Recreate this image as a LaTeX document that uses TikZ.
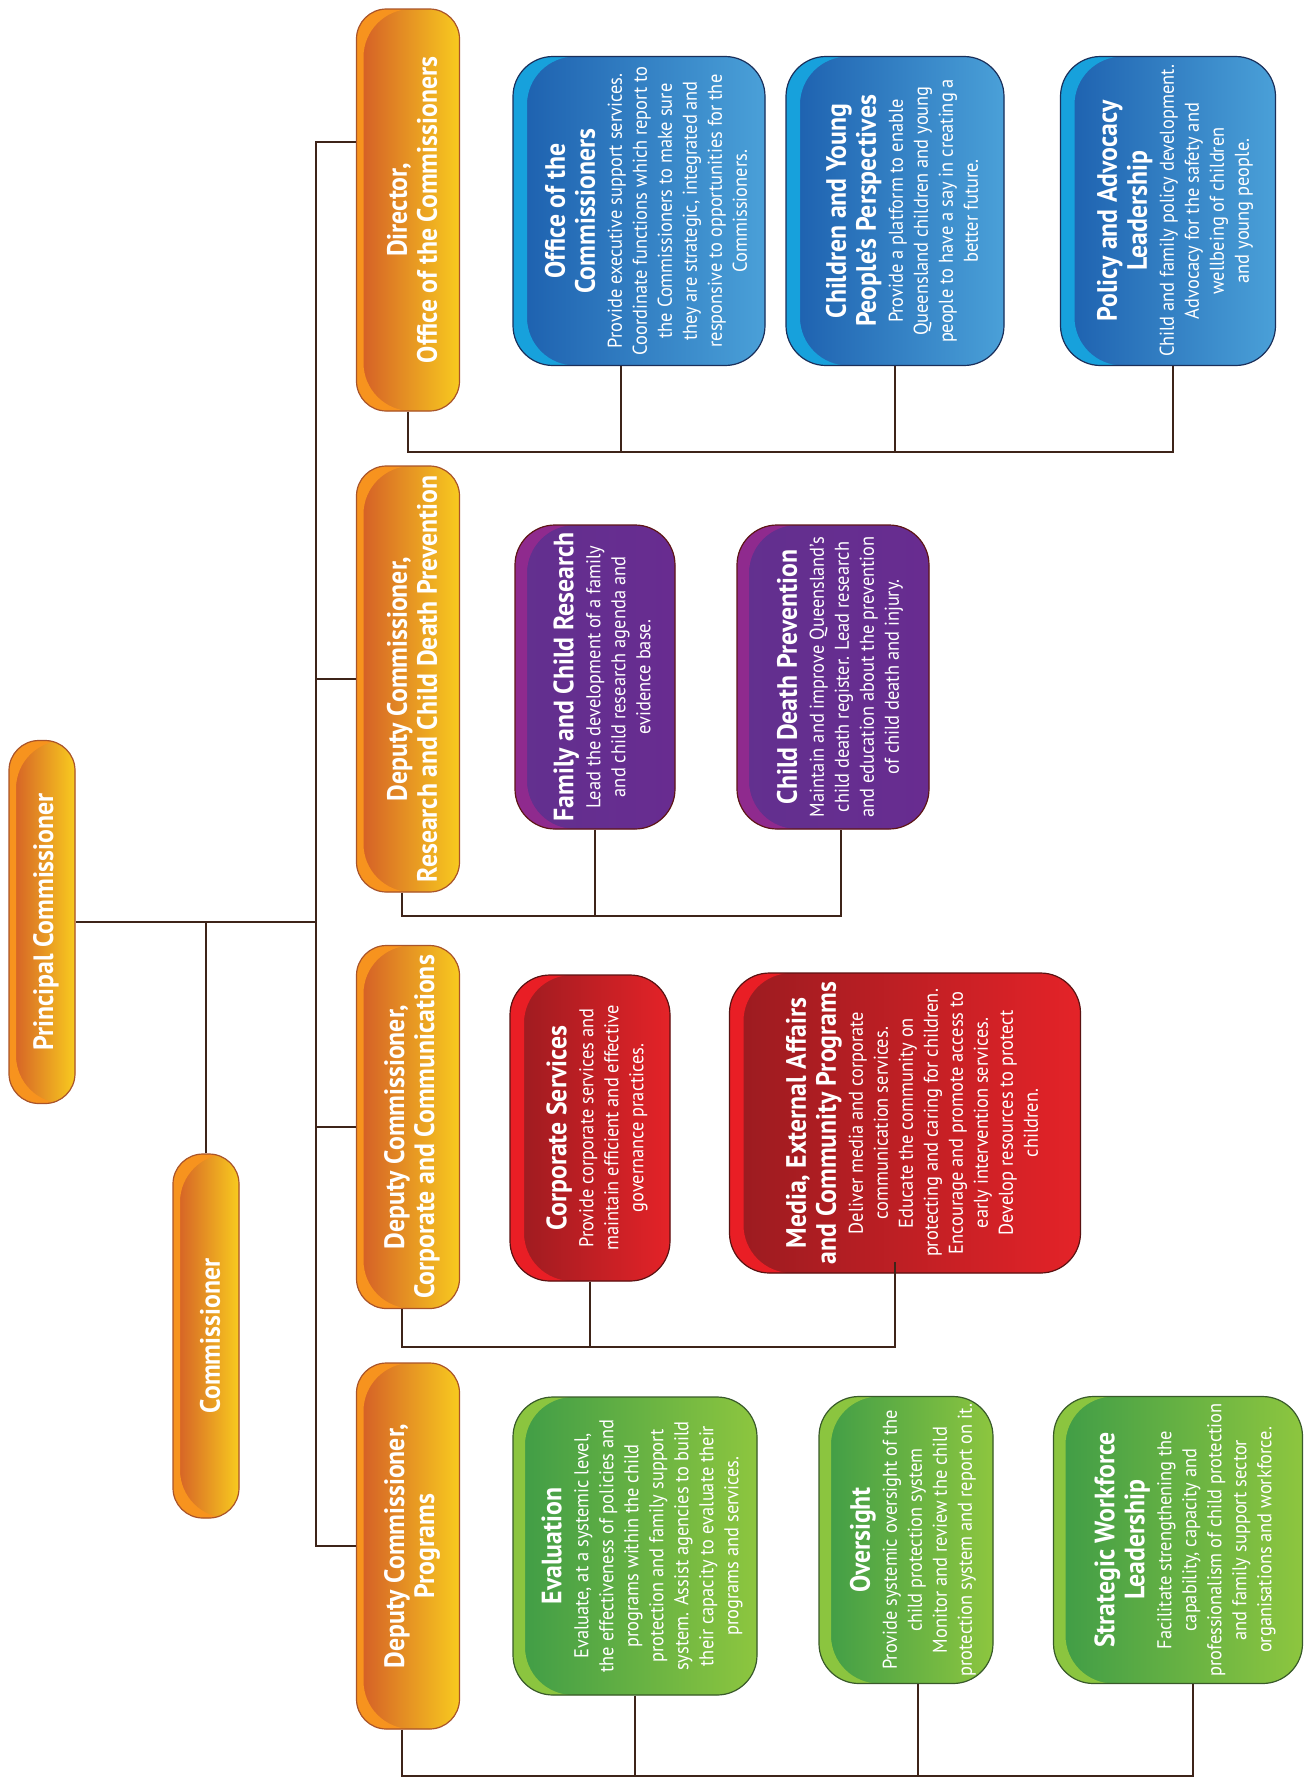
\documentclass[tikz,border=0pt]{standalone}
\usepackage{fontspec}
\setmainfont{PT Sans}[FakeStretch=0.92]
\usepackage{graphicx}

\definecolor{linebrown}{HTML}{3E2419}
\definecolor{orangeS}{HTML}{F7931E}
\definecolor{orangeL}{HTML}{D35A27}
\definecolor{orangeM}{HTML}{DC6E29}
\definecolor{orangeR}{HTML}{F8CB1F}
\definecolor{orangeD}{HTML}{A9542A}
\definecolor{blueS}{HTML}{17A1DC}
\definecolor{blueL}{HTML}{1C5FAE}
\definecolor{blueM}{HTML}{2470BA}
\definecolor{blueR}{HTML}{4AA0D8}
\definecolor{blueD}{HTML}{1B2F5A}
\definecolor{purpleS}{HTML}{8F2A8E}
\definecolor{purpleL}{HTML}{62308F}
\definecolor{purpleM}{HTML}{652E8F}
\definecolor{purpleR}{HTML}{682C90}
\definecolor{purpleD}{HTML}{5E1616}
\definecolor{redS}{HTML}{E91E25}
\definecolor{redL}{HTML}{9A1B20}
\definecolor{redM}{HTML}{B81C22}
\definecolor{redR}{HTML}{E42328}
\definecolor{redD}{HTML}{5A1212}
\definecolor{greenS}{HTML}{8BC53F}
\definecolor{greenL}{HTML}{3E9C47}
\definecolor{greenM}{HTML}{4CA645}
\definecolor{greenR}{HTML}{8DC63F}
\definecolor{greenD}{HTML}{395A2A}

\newcommand\unittitle{\fontsize{14}{15}\selectfont\bfseries}
\newcommand\unitbody{\fontsize{10}{12.5}\selectfont\mdseries}
\newcommand\unitlabel[2]{\hspace*{7pt}\rotatebox{90}{\makebox[0pt]{\parbox{320pt}{\centering
  {\unittitle #1\par}\vspace{1pt}{\unitbody #2\par}}}}}
\newcommand\headlabel[1]{\hspace*{4pt}\rotatebox{90}{\makebox[0pt]{\parbox{320pt}{\centering
  \unittitle #1\par}}}}

\tikzset{
  link/.style={draw=linebrown, line width=0.8pt},
  size/.style 2 args={minimum width=#1, minimum height=#2},
  unit/.style n args={6}{draw=#5, line width=0.6pt, rounded corners=20pt,
    left color=#2, middle color=#3, right color=#4,
    inner sep=0pt, text=white,
    path picture={\fill[#1, even odd rule]
      (path picture bounding box.south west) rectangle (path picture bounding box.north east)
      [rounded corners=24pt] ([xshift=#6]path picture bounding box.south west) rectangle
      ([xshift=30pt]path picture bounding box.north east);}},
  head/.style={unit={orangeS}{orangeL}{orangeM}{orangeR}{orangeD}{3.5pt}, rounded corners=15pt},
  blueunit/.style={unit={blueS}{blueL}{blueM}{blueR}{blueD}{7pt}},
  purpleunit/.style={unit={purpleS}{purpleL}{purpleM}{purpleR}{purpleD}{6pt}},
  redunit/.style={unit={redS}{redL}{redM}{redR}{redD}{7pt}},
  greenunit/.style={unit={greenS}{greenL}{greenM}{greenR}{greenD}{6pt}},
}

\begin{document}
\begin{tikzpicture}[x=0.5pt, y=-0.5pt]
\useasboundingbox (0,0) rectangle (1305,1778);

% heads
\node[head, size={33pt}{181.5pt}] (pc) at (42,922) {\headlabel{Principal Commissioner}};
\node[head, size={33pt}{182pt}] (comm) at (206,1336) {\headlabel{Commissioner}};
\node[head, size={51.5pt}{201pt}] (dir) at (408,210) {\headlabel{Director,\\Office of the Commissioners}};
\node[head, size={51.5pt}{213pt}] (dcr) at (408,679) {\headlabel{Deputy Commissioner,\\Research and Child Death Prevention}};
\node[head, size={51.5pt}{181.5pt}] (dcc) at (408,1127) {\headlabel{Deputy Commissioner,\\Corporate and Communications}};
\node[head, size={51.5pt}{183pt}] (dcp) at (408,1546) {\headlabel{Deputy Commissioner,\\Programs}};

% office of the commissioners
\node[blueunit, size={126pt}{154.5pt}] (ooc) at (639,211) {\unitlabel{Office of the\\Commissioners}{Provide executive support services.\\Coordinate functions which report to\\the Commissioners to make sure\\they are strategic, integrated and\\responsive to opportunities for the\\Commissioners.}};
\node[blueunit, size={109pt}{154.5pt}] (cyp) at (895,211) {\unitlabel{Children and Young\\People's Perspectives}{Provide a platform to enable\\Queensland children and young\\people to have a say in creating a\\better future.}};
\node[blueunit, size={107.5pt}{154.5pt}] (pal) at (1168,211) {\unitlabel{Policy and Advocacy\\Leadership}{Child and family policy development.\\Advocacy for the safety and\\wellbeing of children\\and young people.}};

% research and child death prevention
\node[purpleunit, size={80pt}{152pt}] (fcr) at (595,677) {\unitlabel{Family and Child Research}{Lead the development of a family\\and child research agenda and\\evidence base.}};
\node[purpleunit, size={96pt}{152pt}] (cdp) at (833,677) {\unitlabel{Child Death Prevention}{Maintain and improve Queensland's\\child death register. Lead research\\and education about the prevention\\of child death and injury.}};

% corporate and communications
\node[redunit, size={80pt}{153pt}] (cs) at (590,1128) {\unitlabel{Corporate Services}{Provide corporate services and\\maintain efficient and effective\\governance practices.}};
\node[redunit, size={175.5pt}{150pt}] (media) at (905,1123) {\unitlabel{Media, External Affairs\\and Community Programs}{Deliver media and corporate\\communication services.\\Educate the community on\\protecting and caring for children.\\Encourage and promote access to\\early intervention services.\\Develop resources to protect\\children.}};

% programs
\node[greenunit, size={122pt}{149pt}] (ev) at (635,1546) {\unitlabel{Evaluation}{Evaluate, at a systemic level,\\the effectiveness of policies and\\programs within the child\\protection and family support\\system. Assist agencies to build\\their capacity to evaluate their\\programs and services.}};
\node[greenunit, size={87pt}{143.5pt}] (ov) at (906,1540) {\unitlabel{Oversight}{Provide systemic oversight of the\\child protection system\\Monitor and review the child\\protection system and report on it.}};
\node[greenunit, size={124.5pt}{143.5pt}] (sw) at (1178,1540) {\unitlabel{Strategic Workforce\\Leadership}{Facilitate strengthening the\\capability, capacity and\\professionalism of child protection\\and family support sector\\organisations and workforce.}};

% trunk
\coordinate (trunk) at (316,142);
\draw[link] (dir.west |- trunk) -- (trunk) |- (dcp.west);
\draw[link] (pc.east) -- (pc.east -| trunk);
\draw[link] (dcr.west -| trunk) -- (dcr.west);
\draw[link] (dcc.west -| trunk) -- (dcc.west);
\draw[link, line width=1.4pt] (comm.north) -- (comm.north |- pc.east);

% buses
\coordinate (bus1) at (0,452);
\coordinate (bus2) at (0,916);
\coordinate (bus3) at (0,1347);
\coordinate (bus4) at (0,1776);
\coordinate (dcr-t) at ([xshift=-3pt]dcr.south);
\coordinate (dcc-t) at ([xshift=-3pt]dcc.south);
\coordinate (dcp-t) at ([xshift=-3pt]dcp.south);
\coordinate (ooc-t) at ([xshift=-9pt]ooc.south);
\coordinate (pal-t) at ([xshift=2.5pt]pal.south);
\coordinate (cdp-t) at ([xshift=4pt]cdp.south);
\coordinate (media-t) at ([xshift=-5pt,yshift=6pt]media.south);
\coordinate (ov-t) at ([xshift=6pt]ov.south);
\coordinate (sw-t) at ([xshift=7.5pt]sw.south);

\draw[link] (dir.south) |- (pal-t |- bus1) -- (pal-t);
\draw[link] (ooc-t) -- (ooc-t |- bus1);
\draw[link] (cyp.south) -- (cyp.south |- bus1);

\draw[link] (dcr-t) |- (cdp-t |- bus2) -- (cdp-t);
\draw[link] (fcr.south) -- (fcr.south |- bus2);

\draw[link] (dcc-t) |- (media-t |- bus3) -- (media-t);
\draw[link] (cs.south) -- (cs.south |- bus3);

\draw[link] (dcp-t) |- (sw-t |- bus4) -- (sw-t);
\draw[link] (ev.south) -- (ev.south |- bus4);
\draw[link] (ov-t) -- (ov-t |- bus4);
\end{tikzpicture}
\end{document}
